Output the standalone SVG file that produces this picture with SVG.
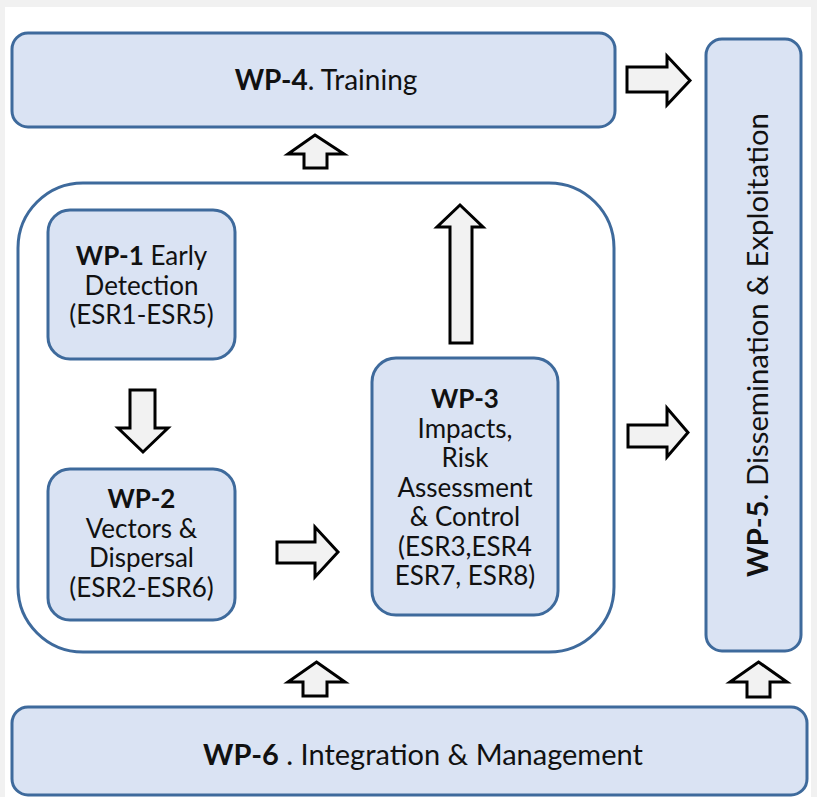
<svg xmlns="http://www.w3.org/2000/svg" width="817" height="797" viewBox="0 0 817 797">
<style>
.box{fill:#dae3f3;stroke:#3e6a9c;stroke-width:3}
.frame{fill:#ffffff;stroke:#3e6a9c;stroke-width:3}
.arr{fill:#f2f2f2;stroke:#000;stroke-width:3;stroke-linejoin:miter}
text{font-family:Lato,"Liberation Sans",sans-serif;fill:#111;text-anchor:middle}
.t{font-size:28px}
.s{font-size:26px}
.b{font-weight:bold}
</style>
<rect x="0" y="0" width="817" height="797" fill="#f1f1f1"/>
<rect x="5" y="7" width="806" height="790" fill="#ffffff"/>

<g id="wp4">
<rect class="box" x="12" y="33" width="603" height="94" rx="16"/>
<text class="t" x="326" y="90"><tspan class="b">WP-4</tspan>. Training</text>
</g>

<g id="wp5">
<rect class="box" x="706" y="39" width="95" height="612" rx="16"/>
<text class="t" style="font-size:29.3px" transform="translate(768,345) rotate(-90)"><tspan class="b">WP-5</tspan>. Dissemination &amp; Exploitation</text>
</g>

<g id="research">
<rect class="frame" x="18" y="183" width="596" height="469" rx="65"/>
</g>

<g id="wp1">
<rect class="box" x="48" y="210" width="187" height="149" rx="22"/>
<text class="s" x="141.5" y="265"><tspan class="b">WP-1</tspan> Early</text>
<text class="s" x="141.5" y="294.5">Detection</text>
<text class="s" x="141.5" y="324">(ESR1-ESR5)</text>
</g>

<g id="wp2">
<rect class="box" x="48" y="469" width="187" height="151" rx="22"/>
<text class="s b" x="141.5" y="508">WP-2</text>
<text class="s" x="141.5" y="537.5">Vectors &amp;</text>
<text class="s" x="141.5" y="567">Dispersal</text>
<text class="s" x="141.5" y="596.5">(ESR2-ESR6)</text>
</g>

<g id="wp3">
<rect class="box" x="372" y="358" width="186" height="257" rx="24"/>
<text class="s b" x="465" y="408">WP-3</text>
<text class="s" x="465" y="437.5">Impacts,</text>
<text class="s" x="465" y="467">Risk</text>
<text class="s" x="465" y="496.5">Assessment</text>
<text class="s" x="465" y="526">&amp; Control</text>
<text class="s" x="465" y="555.5">(ESR3,ESR4</text>
<text class="s" x="465" y="585">ESR7, ESR8)</text>
</g>

<g id="wp6">
<rect class="box" x="12" y="707" width="795" height="88" rx="16"/>
<text class="t" style="font-size:29px" x="423" y="765"><tspan class="b">WP-6</tspan> . Integration &amp; Management</text>
</g>

<g id="connectors">
<polygon class="arr" points="315,135 344,154 327,154 327,168 304,168 304,154 288,154"/>
<polygon class="arr" points="627,67 667,67 667,56 690,80.5 667,105 667,92 627,92"/>
<polygon class="arr" points="460,205 483,227 472,227 472,343 450,343 450,227 437,227"/>
<polygon class="arr" points="628,425 667,425 667,408 688,432.5 667,457 667,447 628,447"/>
<polygon class="arr" points="130,390 155,390 155,428 168,428 143,452 118,428 130,428"/>
<polygon class="arr" points="277,542 315,542 315,527 338,552 315,577 315,563 277,563"/>
<polygon class="arr" points="316.5,662 345,682 327,682 327,696 303,696 303,682 288,682"/>
<polygon class="arr" points="758.5,662 787,682 770,682 770,697 747,697 747,682 730,682"/>
</g>
</svg>
